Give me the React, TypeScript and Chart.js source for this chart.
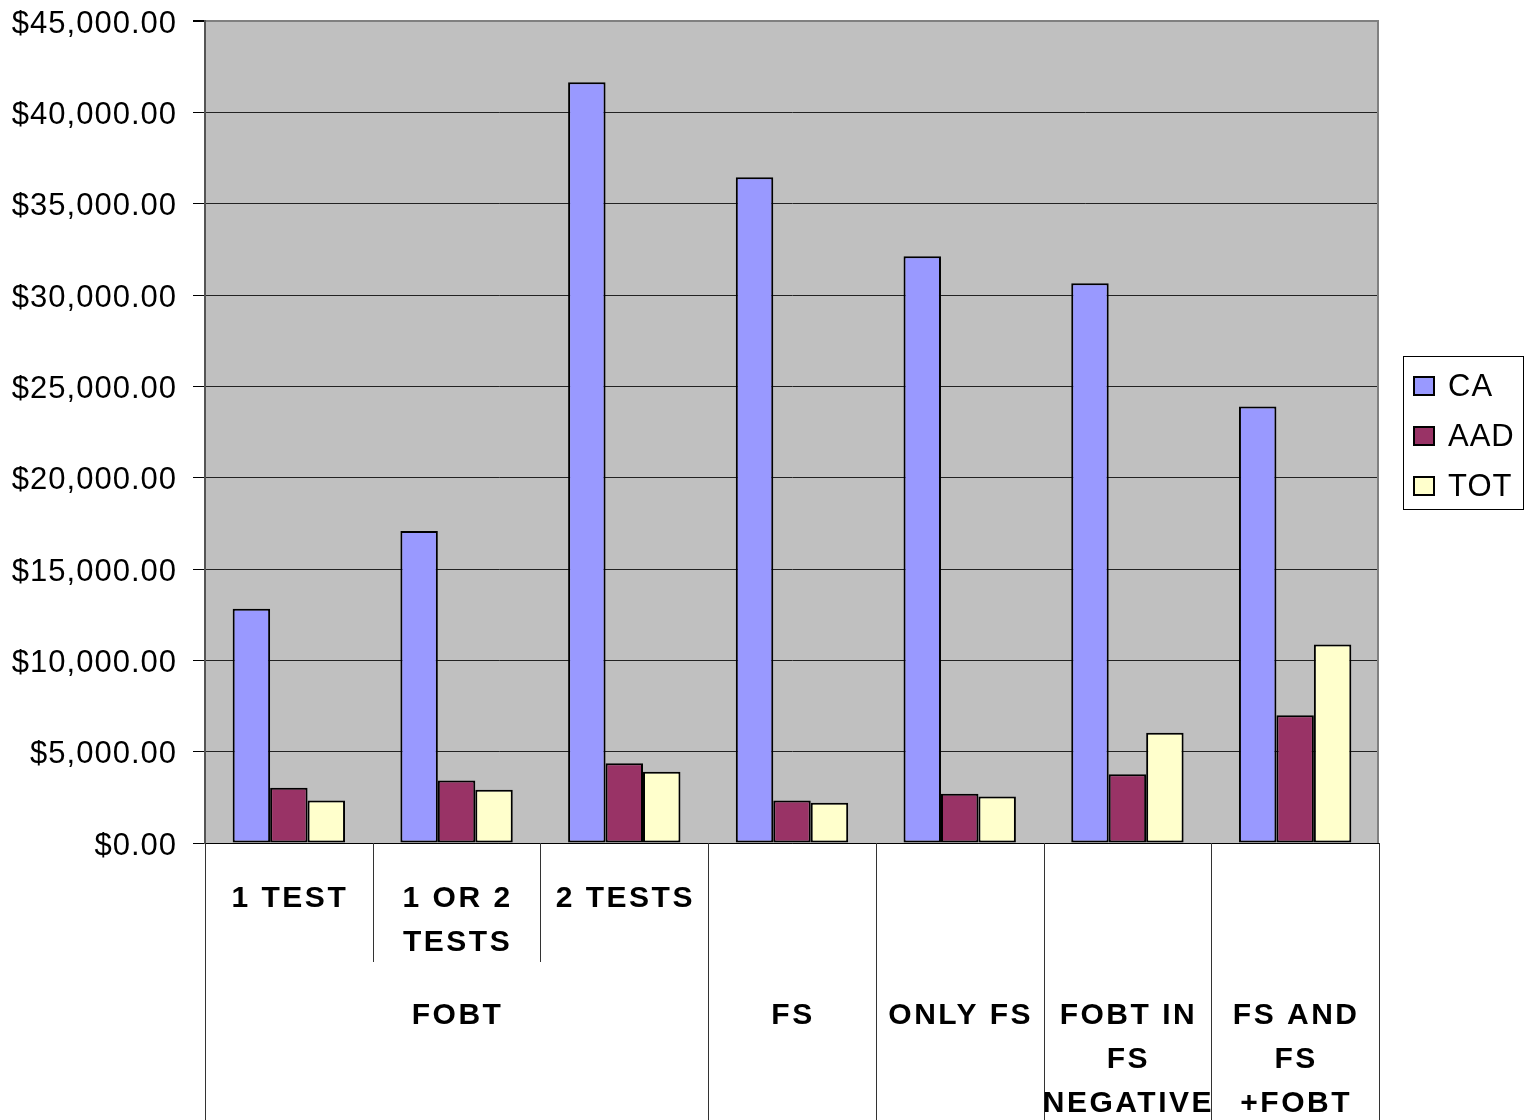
import React, { useEffect, useRef } from 'react';
import { Chart, registerables } from 'chart.js';

Chart.register(...registerables);

const categoryKeys = ['FOBT 1 TEST', 'FOBT 1 OR 2 TESTS', 'FOBT 2 TESTS', 'FS', 'ONLY FS', 'FOBT IN FS NEGATIVE', 'FS AND FS +FOBT'];
const subLabels: string[][] = [['1 TEST'], ['1 OR 2', 'TESTS'], ['2 TESTS'], [], [], [], []];
const groupLabels: string[][] = [['FOBT'], ['FS'], ['ONLY FS'], ['FOBT IN', 'FS', 'NEGATIVE'], ['FS AND', 'FS', '+FOBT']];
const groupSpans = [3, 1, 1, 1, 1];

const seriesNames = ['CA', 'AAD', 'TOT'];
const seriesColors = ['#9999FF', '#993366', '#FFFFCC'];
const caValues = [12830, 17080, 41650, 36450, 32120, 30650, 23900];
const aadValues = [3020, 3420, 4360, 2320, 2700, 3760, 7000];
const totValues = [2320, 2920, 3900, 2210, 2540, 6040, 10870];

const yMin = 0;
const yMax = 45000;
const yStep = 5000;

const FONT = '"Liberation Sans", Arial, sans-serif';

const plotBgPlugin = {
  id: 'plotBg',
  beforeInit(chart: any) {
    (chart.ctx as any).letterSpacing = '1px';
  },
  beforeDraw(chart: any) {
    const { ctx, chartArea: a } = chart;
    (ctx as any).letterSpacing = '1px';
    ctx.save();
    ctx.fillStyle = '#FFFFFF';
    ctx.fillRect(0, 0, chart.width, chart.height);
    ctx.fillStyle = '#C0C0C0';
    ctx.fillRect(a.left, a.top, a.right - a.left, a.bottom - a.top);
    ctx.restore();
  },
  afterDatasetsDraw(chart: any) {
    const { ctx, chartArea: a } = chart;
    ctx.save();
    ctx.strokeStyle = '#808080';
    ctx.lineWidth = 2;
    ctx.beginPath();
    ctx.moveTo(a.right - 1, a.top);
    ctx.lineTo(a.right - 1, a.bottom);
    ctx.stroke();
    ctx.restore();
  },
};

const categoryTablePlugin = {
  id: 'categoryTable',
  afterDraw(chart: any) {
    const { ctx, chartArea: a } = chart;
    const x = chart.scales.x;
    const n = categoryKeys.length;
    const step = x.getPixelForValue(1) - x.getPixelForValue(0);
    const edge = (i: number) => x.getPixelForValue(0) - step / 2 + i * step;
    const row1H = 119;
    const groupEdges = new Set<number>([0]);
    let acc = 0;
    groupSpans.forEach((s) => { acc += s; groupEdges.add(acc); });
    ctx.save();
    ctx.strokeStyle = '#333333';
    ctx.lineWidth = 1;
    for (let i = 0; i <= n; i++) {
      const px = Math.round(edge(i)) + 0.5;
      const bottom = groupEdges.has(i) ? chart.height : a.bottom + row1H;
      ctx.beginPath();
      ctx.moveTo(px, a.bottom);
      ctx.lineTo(px, bottom);
      ctx.stroke();
    }
    ctx.fillStyle = '#000000';
    ctx.font = `bold 30px ${FONT}`;
    (ctx as any).letterSpacing = '2.5px';
    ctx.textAlign = 'center';
    ctx.textBaseline = 'alphabetic';
    subLabels.forEach((lines, i) => {
      const cx = x.getPixelForValue(i) + 1;
      lines.forEach((t, k) => ctx.fillText(t, cx, a.bottom + 64 + k * 44));
    });
    let start = 0;
    groupLabels.forEach((lines, g) => {
      const span = groupSpans[g];
      const cx = (edge(start) + edge(start + span)) / 2 + 1;
      lines.forEach((t, k) => ctx.fillText(t, cx, a.bottom + 181 + k * 44));
      start += span;
    });

    // legend
    const lw = 120;
    const lh = 153;
    const lx = a.right + 24;
    const ly = Math.round((a.top + a.bottom) / 2 - lh / 2);
    ctx.strokeStyle = '#000000';
    ctx.lineWidth = 1;
    ctx.strokeRect(lx + 0.5, ly + 0.5, lw, lh);
    ctx.font = `31px ${FONT}`;
    (ctx as any).letterSpacing = '1px';
    ctx.textAlign = 'left';
    chart.data.datasets.forEach((ds: any, i: number) => {
      const sy = ly + 21 + i * 50;
      ctx.fillStyle = ds.backgroundColor;
      ctx.fillRect(lx + 11, sy, 20, 18);
      ctx.lineWidth = 2;
      ctx.strokeStyle = '#000000';
      ctx.strokeRect(lx + 11, sy, 20, 18);
      ctx.fillStyle = '#000000';
      ctx.fillText(ds.label, lx + 45, ly + 40 + i * 50);
    });
    ctx.restore();
  },
};

export default function App() {
  const canvasRef = useRef<HTMLCanvasElement | null>(null);

  useEffect(() => {
    if (!canvasRef.current) return;
    const valuesList = [caValues, aadValues, totValues];
    const chart = new Chart(canvasRef.current, {
      type: 'bar',
      data: {
        labels: categoryKeys,
        datasets: seriesNames.map((name, i) => ({
          label: name,
          data: valuesList[i],
          backgroundColor: seriesColors[i],
          borderColor: '#000000',
          borderWidth: 2,
          borderSkipped: false,
          categoryPercentage: 0.67,
          barPercentage: 1.0,
        })),
      },
      options: {
        animation: false,
        responsive: true,
        maintainAspectRatio: false,
        devicePixelRatio: 1,
        layout: { padding: { top: 21, right: 145, left: 0, bottom: 0 } },
        plugins: {
          legend: { display: false },
          tooltip: { enabled: false },
          title: { display: false },
        },
        scales: {
          x: {
            ticks: { display: false },
            grid: { display: false, drawTicks: false },
            border: { display: true, color: '#000000', width: 1 },
            afterFit: (scale: any) => {
              scale.height = 277;
              scale.paddingLeft = 0;
              scale.paddingRight = 0;
            },
          },
          y: {
            min: yMin,
            max: yMax,
            ticks: {
              stepSize: yStep,
              color: '#000000',
              padding: 16,
              labelOffset: 3,
              font: { family: FONT, size: 31 },
              callback: (v: any) => '$' + Number(v).toLocaleString('en-US', { minimumFractionDigits: 2, maximumFractionDigits: 2 }),
            },
            grid: {
              color: (c: any) => (c.tick && c.tick.value === yMax ? '#808080' : '#222222'),
              lineWidth: (c: any) => (c.tick && c.tick.value === yMax ? 2 : 1),
              tickColor: '#000000',
              tickLength: 12,
              drawTicks: true,
            },
            border: { display: true, color: '#555555', width: 2 },
            afterFit: (scale: any) => {
              scale.width = 205;
              scale.paddingTop = 0;
              scale.paddingBottom = 0;
            },
          },
        },
      },
      plugins: [plotBgPlugin, categoryTablePlugin],
    });
    return () => chart.destroy();
  }, []);

  return (
    <div style={{ position: 'fixed', left: 0, top: 0, width: 1524, height: 1120, background: '#FFFFFF' }}>
      <canvas ref={canvasRef} />
    </div>
  );
}
